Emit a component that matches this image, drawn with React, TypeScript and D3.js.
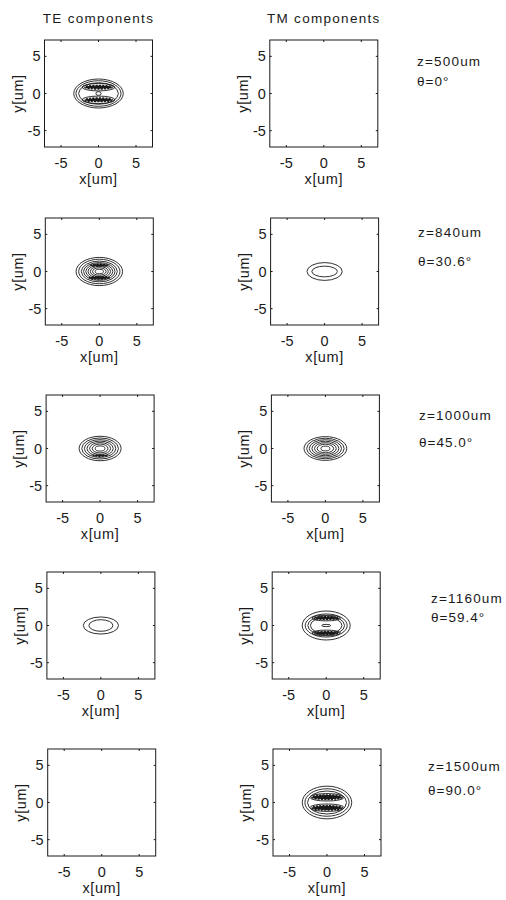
import * as d3 from "d3";

const DOMAIN = [-7.2, 7.2];
const TICKS = [-5, 0, 5];
const COLUMN_TITLES = ["TE components", "TM components"];
const Z_LABELS = ["z=500um", "z=840um", "z=1000um", "z=1160um", "z=1500um"];
const THETA_LABELS = ["θ=0°", "θ=30.6°", "θ=45.0°", "θ=59.4°", "θ=90.0°"];

// contour lines per row: [centre y, half width, half height] in um
const TE_RINGS = [
  [[0, 3.3, 1.95], [0, 3.0, 1.72], [0, 2.65, 1.45], [0.85, 2.2, 0.5], [-0.85, 2.2, 0.5], [0, 0.35, 0.25]],
  [[0, 3.1, 1.9], [0, 2.75, 1.65], [0, 2.4, 1.4], [0, 2.1, 1.2], [0, 1.8, 1.02], [0, 1.5, 0.85], [0, 1.2, 0.68], [0, 0.9, 0.5], [0, 0.55, 0.3]],
  [[0, 2.8, 1.65], [0, 2.45, 1.42], [0, 2.1, 1.2], [0, 1.75, 1.0], [0, 1.4, 0.8], [0, 1.05, 0.6], [0, 0.65, 0.35]],
  [[0, 2.35, 1.15], [0, 1.6, 0.78]],
  [],
];
// dense (dark) contour clusters: [centre y, half width, half height]
const TE_CORES = [
  [[0.85, 1.8, 0.22], [-0.85, 1.8, 0.22]],
  [[-0.85, 1.3, 0.14], [0.85, 1.1, 0.1]],
  [[-0.95, 0.9, 0.06]],
  [],
  [],
];
const TM_RINGS = [
  [],
  [[0, 2.35, 1.2], [0, 1.7, 0.72]],
  [[0, 2.85, 1.6], [0, 2.5, 1.38], [0, 2.15, 1.18], [0, 1.8, 0.98], [0, 1.45, 0.78], [0, 1.1, 0.58], [0, 0.6, 0.32]],
  [[0, 3.2, 1.95], [0, 2.8, 1.55], [0, 2.45, 1.3], [0, 2.1, 1.1], [1.0, 1.9, 0.38], [-1.0, 1.9, 0.38], [0, 0.6, 0.15]],
  [[0, 3.3, 2.2], [0, 2.95, 1.85], [0, 2.6, 1.55], [0.7, 2.3, 0.5], [-0.7, 2.3, 0.5]],
];
const TM_CORES = [
  [],
  [],
  [],
  [[1.0, 1.5, 0.16], [-1.0, 1.5, 0.18]],
  [[0.72, 2.0, 0.28], [-0.72, 2.0, 0.28]],
];

const FONT = "'Liberation Sans', Arial, sans-serif";
const INK = "#1a1a1a";
const BOX_W = 108;
const BOX_H = 107;
const COL_X = [44.5, 269.8];
const ROW_Y = [40, 218, 395, 572, 749];
const LABEL_X = [417, 418, 419, 431, 428];
const Z_DY = [26, 19, 25, 31, 22];
const THETA_DY = [46, 48, 52, 50, 46];

function Panel({ left, top, rings, cores }) {
  const x = d3.scaleLinear().domain(DOMAIN).range([0, BOX_W]);
  const y = d3.scaleLinear().domain(DOMAIN).range([BOX_H, 0]);
  const ell = (d, i, core) => (
    <ellipse
      key={i}
      cx={x(0)}
      cy={y(d[0])}
      rx={x(d[1]) - x(0)}
      ry={y(0) - y(d[2])}
      fill={core ? INK : "none"}
      stroke={INK}
      strokeWidth={core ? 1.8 : 0.9}
      strokeDasharray={core ? "2 1.2" : undefined}
    />
  );
  return (
    <g transform={`translate(${left},${top})`}>
      <rect x={0} y={0} width={BOX_W} height={BOX_H} fill="none" stroke={INK} strokeWidth={1} />
      {TICKS.map((t) => (
        <g key={t}>
          <line x1={x(t)} x2={x(t)} y1={BOX_H} y2={BOX_H - 2} stroke={INK} />
          <line x1={x(t)} x2={x(t)} y1={0} y2={2} stroke={INK} />
          <line x1={0} x2={2} y1={y(t)} y2={y(t)} stroke={INK} />
          <line x1={BOX_W} x2={BOX_W - 2} y1={y(t)} y2={y(t)} stroke={INK} />
          <text x={x(t)} y={BOX_H + 21} textAnchor="middle" fontSize={14.5}>
            {t}
          </text>
          <text x={-4} y={y(t) + 5} textAnchor="end" fontSize={14.5}>
            {t}
          </text>
        </g>
      ))}
      {rings.map((d, i) => ell(d, i, false))}
      {cores.map((d, i) => ell(d, `c${i}`, true))}
      <text x={BOX_W / 2} y={BOX_H + 37} textAnchor="middle" fontSize={14.5} letterSpacing={0.6}>
        x[um]
      </text>
      <text
        transform={`translate(-22,${BOX_H / 2}) rotate(-90)`}
        textAnchor="middle"
        fontSize={14.5}
        letterSpacing={0.6}
      >
        y[um]
      </text>
    </g>
  );
}

export default function App() {
  return (
    <svg
      width={506}
      height={900}
      style={{ position: "absolute", left: 0, top: 0, background: "#fff" }}
      fontFamily={FONT}
      fill={INK}
    >
      {COLUMN_TITLES.map((t, c) => (
        <text key={t} x={COL_X[c] + 54} y={23} textAnchor="middle" fontSize={13.5} letterSpacing={1.3}>
          {t}
        </text>
      ))}
      {Z_LABELS.map((z, r) => (
        <g key={z}>
          <Panel left={COL_X[0] + r * 0.8} top={ROW_Y[r]} rings={TE_RINGS[r]} cores={TE_CORES[r]} />
          <Panel left={COL_X[1] + r * 0.8} top={ROW_Y[r]} rings={TM_RINGS[r]} cores={TM_CORES[r]} />
          <text x={LABEL_X[r]} y={ROW_Y[r] + Z_DY[r]} fontSize={13.5} letterSpacing={1.2}>
            {z}
          </text>
          <text x={LABEL_X[r]} y={ROW_Y[r] + THETA_DY[r]} fontSize={13.5} letterSpacing={1}>
            {THETA_LABELS[r]}
          </text>
        </g>
      ))}
    </svg>
  );
}
